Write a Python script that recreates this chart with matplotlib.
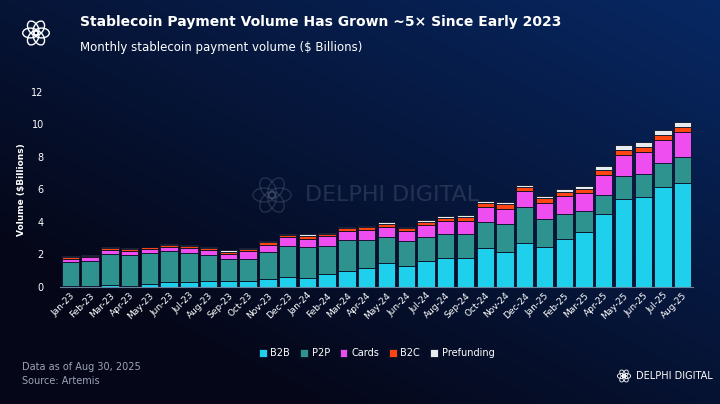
import numpy as np
import matplotlib.pyplot as plt
from matplotlib.patches import Ellipse

months = ['Jan-23', 'Feb-23', 'Mar-23', 'Apr-23', 'May-23', 'Jun-23', 'Jul-23', 'Aug-23',
          'Sep-23', 'Oct-23', 'Nov-23', 'Dec-23', 'Jan-24', 'Feb-24', 'Mar-24', 'Apr-24',
          'May-24', 'Jun-24', 'Jul-24', 'Aug-24', 'Sep-24', 'Oct-24', 'Nov-24', 'Dec-24',
          'Jan-25', 'Feb-25', 'Mar-25', 'Apr-25', 'May-25', 'Jun-25', 'Jul-25', 'Aug-25']
b2b = [.08, .07, .1, .08, .15, .29, .29, .35, .35, .37, .51, .6, .53, .78, .98, 1.18,
       1.48, 1.27, 1.58, 1.76, 1.76, 2.38, 2.17, 2.69, 2.48, 2.97, 3.38, 4.47, 5.39, 5.5, 6.11, 6.38]
p2p = [1.44, 1.51, 1.93, 1.87, 1.92, 1.9, 1.8, 1.6, 1.37, 1.37, 1.62, 1.9, 1.91, 1.76, 1.89, 1.68,
       1.58, 1.52, 1.48, 1.5, 1.5, 1.58, 1.71, 2.19, 1.68, 1.5, 1.3, 1.19, 1.4, 1.45, 1.48, 1.58]
cards = [.22, .25, .23, .24, .23, .29, .29, .29, .29, .45, .45, .54, .53, .58, .56, .63,
         .61, .62, .73, .76, .76, .92, .92, .99, 1.01, 1.11, 1.1, 1.21, 1.29, 1.34, 1.42, 1.54]
b2c = [.09, .08, .12, .13, .12, .08, .12, .14, .12, .13, .15, .14, .17, .14, .16, .16,
       .21, .18, .21, .21, .25, .25, .27, .26, .29, .27, .25, .33, .33, .33, .32, .33]
prefunding = [.04, .04, .06, .04, .06, .09, .06, .06, .11, .08, .06, .08, .08, .08, .1, .1,
              .1, .06, .1, .1, .12, .14, .16, .13, .14, .18, .2, .21, .29, .28, .31, .30]

series = [('B2B', b2b, '#1fd0ec'), ('P2P', p2p, '#2e938f'), ('Cards', cards, '#ee4ef0'),
          ('B2C', b2c, '#ff4512'), ('Prefunding', prefunding, '#e6ecef')]

W, H = 720, 404
fig = plt.figure(figsize=(7.2, 4.04), dpi=100)

# background gradient, drawn in pixel coordinates (brighter toward top right)
bg = fig.add_axes([0, 0, 1, 1])
yy, xx = np.mgrid[0:1:200j, 0:1:360j]
up = 1 - yy
g = np.clip(0.55 * xx + 0.6 * up - 0.25, 0, 1) * np.clip(1.3 - 0.3 * xx, 0, 1)
c0 = np.array([0.02, 0.03, 0.10])
c1 = np.array([0.03, 0.17, 0.42])
img = c0 + (c1 - c0) * g[..., None]
bg.imshow(img, origin='upper', aspect='auto', extent=[0, W, H, 0])
bg.set_xlim(0, W)
bg.set_ylim(H, 0)
bg.axis('off')


def logo(cx, cy, r, color, lw, alpha=1.0):
    for a in np.linspace(0, 2 * np.pi, 7)[:-1]:
        bg.add_patch(Ellipse((cx + 0.4 * r * np.cos(a), cy + 0.4 * r * np.sin(a)), r * 1.1, r * 0.7,
                             angle=np.degrees(a), fill=False, ec=color, lw=lw, alpha=alpha))


# watermark
logo(272, 195, 20, '#5a6a85', 1.0, 0.35)
bg.text(305, 195, 'DELPHI DIGITAL', color='#5a6a85', alpha=0.35, fontsize=16,
        ha='left', va='center')

logo(36, 33, 14, 'white', 1.0)
logo(624, 376, 7, 'white', 0.6)
bg.text(636, 376, 'DELPHI DIGITAL', color='white', fontsize=7, va='center', ha='left')

fig.text(80 / W, 0.945, 'Stablecoin Payment Volume Has Grown ~5× Since Early 2023',
         color='white', fontsize=10, fontweight='bold', va='center')
fig.text(80 / W, 0.883, 'Monthly stablecoin payment volume ($ Billions)',
         color='white', fontsize=8.5, va='center')
fig.text(0.031, 0.092, 'Data as of Aug 30, 2025', color='#9aa3b5', fontsize=7, va='center')
fig.text(0.031, 0.057, 'Source: Artemis', color='#9aa3b5', fontsize=7, va='center')

ax = fig.add_axes([0.084, 0.29, 0.878, 0.483])
ax.patch.set_alpha(0)
x = np.arange(len(months))
bottom = np.zeros(len(months))
for name, vals, col in series:
    ax.bar(x, vals, bottom=bottom, color=col, width=0.88, label=name,
           edgecolor='#0a0f25', linewidth=0.6)
    bottom += np.array(vals)

ax.set_xlim(-0.5, len(months) - 0.5)
ax.set_ylim(0, 12)
ax.set_yticks([0, 2, 4, 6, 8, 10, 12])
ax.set_xticks(x)
ax.set_xticklabels(months, rotation=45, ha='right', rotation_mode='anchor', fontsize=6.5, color='white')
ax.tick_params(axis='y', colors='white', labelsize=7, length=0, pad=12)
ax.tick_params(axis='x', length=0, pad=3)
for s in ['top', 'right', 'left']:
    ax.spines[s].set_visible(False)
ax.spines['bottom'].set_color('#6a7f9a')
ax.set_ylabel('Volume ($Billions)', color='white', fontsize=6.5, fontweight='bold', labelpad=4)

leg = ax.legend(loc='upper center', bbox_to_anchor=(0.5, -0.27), ncol=5, frameon=False,
                fontsize=7, handlelength=0.8, handleheight=0.8, handletextpad=0.4, columnspacing=1.0)
for t in leg.get_texts():
    t.set_color('white')

fig.savefig('out.png', dpi=100)
